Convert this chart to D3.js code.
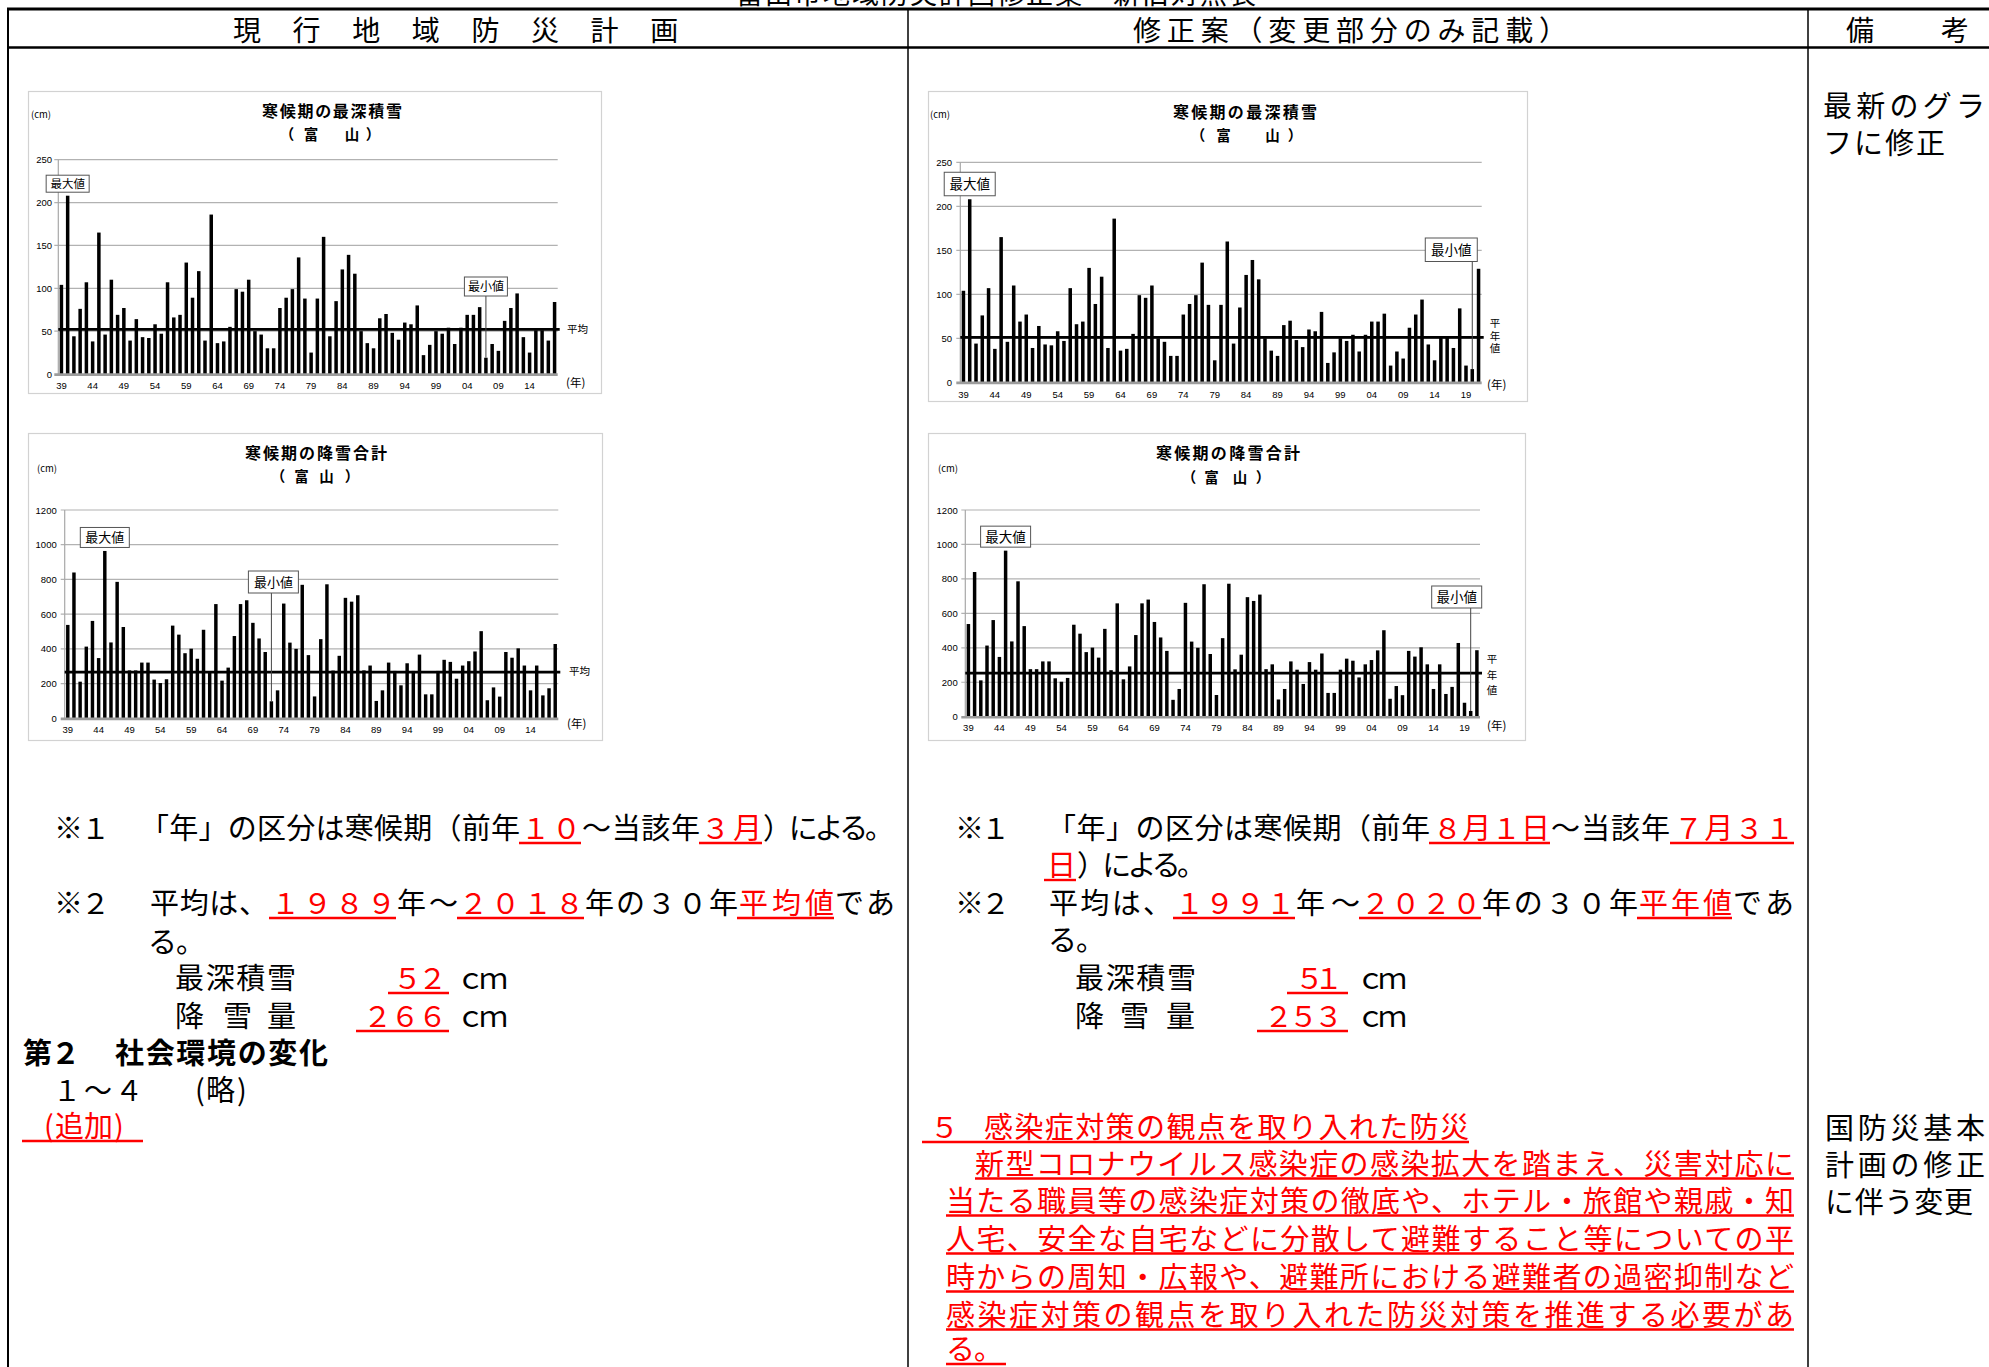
<!DOCTYPE html>
<html lang="ja">
<head>
<meta charset="utf-8">
<script src="https://cdn.jsdelivr.net/npm/d3@7"></script>
<style>
  html, body { margin: 0; padding: 0; background: #fff; }
  svg { display: block; }
</style>
</head>
<body>
<script>
// 寒候期（冬季）ごとの富山の観測値, 1939〜2021
const years = d3.range(1939, 2022);

// 寒候期の最深積雪 (cm)
const depth = [
  104, 208, 44, 76, 107, 38, 165, 46, 110, 69,
  77, 39, 64, 43, 42, 58, 47, 107, 66, 69,
  130, 89, 120, 39, 186, 36, 38, 55, 99, 96,
  110, 50, 46, 30, 30, 77, 89, 99, 136, 88,
  25, 88, 160, 44, 85, 122, 139, 117, 50, 36,
  30, 65, 70, 48, 40, 60, 58, 80, 22, 34,
  50, 47, 54, 35, 54, 69, 69, 78, 19, 35,
  27, 62, 77, 94, 43, 25, 51, 51, 39, 84,
  19, 15, 129
];

// 寒候期の降雪合計 (cm)
const total = [
  538, 840, 211, 413, 561, 347, 964, 437, 786, 526,
  276, 276, 321, 321, 223, 203, 225, 534, 482, 375,
  401, 343, 510, 270, 658, 217, 292, 474, 658, 680,
  550, 460, 382, 98, 161, 661, 436, 400, 769, 364,
  126, 456, 772, 275, 360, 694, 672, 709, 276, 304,
  100, 161, 321, 273, 190, 317, 273, 367, 138, 138,
  273, 337, 325, 228, 304, 329, 385, 502, 104, 178,
  125, 382, 349, 403, 304, 161, 304, 132, 173, 428,
  81, 33, 386
];

// 平均（現行: 1989〜2018）と平年値（修正案: 1991〜2020）
const oldDepthAvg = 52, oldTotalAvg = 266;
const newDepthAvg = 51, newTotalAvg = 253;

// 最大値・最小値の年
const depthMaxYear = 1940, totalMaxYear = 1945;
const oldDepthMinYear = 2007, oldTotalMinYear = 1972;
const newDepthMinYear = 2020, newTotalMinYear = 2020;

// 目盛
const depthTicks = [0, 50, 100, 150, 200, 250];
const totalTicks = [0, 200, 400, 600, 800, 1000, 1200];

const FONT = "'Noto Sans CJK JP','Noto Sans CJK SC',sans-serif";
const NUM = "'Liberation Sans',Arial,sans-serif";
const RED = "#ff0000";

const W = 1989, H = 1367;
const svg = d3.select("body").append("svg")
  .attr("width", W).attr("height", H)
  .attr("viewBox", `0 0 ${W} ${H}`);
svg.append("rect").attr("width", W).attr("height", H).attr("fill", "#fff");

const toFW = s => String(s).replace(/[0-9]/g, c => String.fromCharCode(c.charCodeAt(0) + 0xFEE0));

// ---------- 本文の文字列 ----------
function txt(x0, x1, y, str, o = {}) {
  const el = svg.append("text")
    .attr("x", x0).attr("y", y)
    .attr("font-family", FONT)
    .attr("font-size", o.fs || 29)
    .attr("font-weight", o.bold ? 700 : 400)
    .attr("fill", o.red ? RED : "#000")
    .text(str);
  if (x1 != null && [...str].length > 1) {
    el.attr("textLength", x1 - x0).attr("lengthAdjust", "spacing");
  }
  if (o.ul) {
    const u0 = o.u0 != null ? o.u0 : x0 - 2;
    const u1 = o.u1 != null ? o.u1 : x1;
    svg.append("line")
      .attr("x1", u0).attr("x2", u1)
      .attr("y1", y + (o.uy || 4)).attr("y2", y + (o.uy || 4))
      .attr("stroke", RED).attr("stroke-width", 2.4);
  }
  return el;
}

// ---------- 表の罫線と見出し ----------
txt(736, 1256, 4, "富山市地域防災計画修正案　新旧対照表", { fs: 27 });

const rule = (x1, y1, x2, y2, w) => svg.append("line")
  .attr("x1", x1).attr("y1", y1).attr("x2", x2).attr("y2", y2)
  .attr("stroke", "#000").attr("stroke-width", w);
rule(7, 9, W, 9, 3);
rule(7, 47.5, W, 47.5, 2.5);
rule(8, 8, 8, H, 2);
rule(908, 9, 908, H, 1.5);
rule(1808, 9, 1808, H, 1.5);

[..."現行地域防災計画"].forEach((ch, i) => txt(233 + i * 59.6, null, 41, ch, { fs: 28 }));
txt(1133, 1567, 41, "修正案（変更部分のみ記載）", { fs: 28 });
txt(1846, null, 41, "備", { fs: 28 });
txt(1941, null, 41, "考", { fs: 28 });

// ---------- グラフ ----------
function drawChart(c) {
  const g = svg.append("g");
  const yrs = years.slice(0, c.n);
  const vals = c.values.slice(0, c.n);

  g.append("rect")
    .attr("x", c.box[0] + 0.5).attr("y", c.box[1] + 0.5)
    .attr("width", c.box[2] - c.box[0]).attr("height", c.box[3] - c.box[1])
    .attr("fill", "#fff").attr("stroke", "#d2d2d2").attr("stroke-width", 1.2);

  const x = d3.scaleBand().domain(yrs).range([c.x0, c.x1])
    .paddingInner(0.44).paddingOuter(0.22);
  const y = d3.scaleLinear().domain([0, c.ticks[c.ticks.length - 1]]).range([c.y0, c.yTop]);
  const bw = x.bandwidth();
  const cx = yr => x(yr) + bw / 2;
  const valOf = yr => vals[yrs.indexOf(yr)];

  // 目盛線
  g.selectAll(".grid").data(c.ticks.filter(t => t > 0)).join("line")
    .attr("x1", c.x0 - 4).attr("x2", c.x1)
    .attr("y1", d => y(d)).attr("y2", d => y(d))
    .attr("stroke", "#b2b2b2").attr("stroke-width", 1.2);
  g.append("line")
    .attr("x1", c.x0).attr("x2", c.x0)
    .attr("y1", c.y0).attr("y2", y(c.ticks[c.ticks.length - 1]))
    .attr("stroke", "#a8a8a8").attr("stroke-width", 1.2);

  // 縦軸の目盛ラベル
  const ay = g.append("g")
    .attr("transform", `translate(${c.yLabelRight},0)`)
    .call(d3.axisLeft(y).tickValues(c.ticks).tickFormat(d3.format("d"))
      .tickSize(0).tickPadding(0));
  ay.select(".domain").remove();
  ay.selectAll("text").attr("font-family", NUM).attr("font-size", 9.5).attr("fill", "#000");

  // 棒
  g.selectAll(".bar").data(vals).join("rect")
    .attr("x", (d, i) => x(yrs[i])).attr("width", bw)
    .attr("y", d => y(d)).attr("height", d => c.y0 - y(d))
    .attr("fill", "#000");

  // 平均線
  g.append("line")
    .attr("x1", c.x0).attr("x2", c.x1 + 2)
    .attr("y1", y(c.avg)).attr("y2", y(c.avg))
    .attr("stroke", "#000").attr("stroke-width", 2.7);

  // 横軸
  g.append("line")
    .attr("x1", c.x0 - 4).attr("x2", c.x1)
    .attr("y1", c.y0 + 0.6).attr("y2", c.y0 + 0.6)
    .attr("stroke", "#9c9c9c").attr("stroke-width", 2.6);

  g.selectAll(".xl").data(yrs.filter(d => (d - 1939) % 5 === 0)).join("text")
    .attr("x", d => cx(d)).attr("y", c.xLabelY)
    .attr("text-anchor", "middle")
    .attr("font-family", NUM).attr("font-size", 9.5)
    .text(d => String(d).slice(2));

  // 表題
  g.append("text")
    .attr("x", c.tx - c.tw / 2).attr("y", c.ty)
    .attr("font-family", FONT).attr("font-weight", 700).attr("font-size", 16)
    .attr("textLength", c.tw).attr("lengthAdjust", "spacing")
    .text(c.title);
  ["（", "富", "山", "）"].forEach((ch, i) => {
    g.append("text")
      .attr("x", c.tx + c.sub[i]).attr("y", c.sy)
      .attr("text-anchor", "middle")
      .attr("font-family", FONT).attr("font-weight", 700).attr("font-size", 14.5)
      .text(ch);
  });

  g.append("text").attr("x", c.cm[0]).attr("y", c.cm[1])
    .attr("font-family", FONT).attr("font-size", 9.5).text("(cm)");
  g.append("text").attr("x", c.nen[0]).attr("y", c.nen[1])
    .attr("font-family", FONT).attr("font-size", 11.5).text("(年)");

  if (c.avgLabel.vertical) {
    ["平", "年", "値"].forEach((ch, i) => g.append("text")
      .attr("x", c.avgLabel.x).attr("y", c.avgLabel.ys[i])
      .attr("text-anchor", "middle")
      .attr("font-family", FONT).attr("font-size", 10.5).text(ch));
  } else {
    g.append("text").attr("x", c.avgLabel.x).attr("y", c.avgLabel.y)
      .attr("font-family", FONT).attr("font-size", 10.5).text("平均");
  }

  // 最大値・最小値の吹き出し
  function tag(bx, by, w, h, fs, label) {
    g.append("rect").attr("x", bx).attr("y", by).attr("width", w).attr("height", h)
      .attr("fill", "#fff").attr("stroke", "#555").attr("stroke-width", 1);
    g.append("text").attr("x", bx + w / 2).attr("y", by + h / 2 + fs * 0.36)
      .attr("text-anchor", "middle")
      .attr("font-family", FONT).attr("font-size", fs).text(label);
  }
  const mb = c.maxBox;
  tag(cx(c.maxYear) - mb.w / 2, y(valOf(c.maxYear)) - 3.5 - mb.h, mb.w, mb.h, mb.fs, "最大値");

  const nb = c.minBox;
  g.append("line")
    .attr("x1", cx(c.minYear)).attr("x2", cx(c.minYear))
    .attr("y1", nb.top + nb.h).attr("y2", y(valOf(c.minYear)))
    .attr("stroke", "#444").attr("stroke-width", 1);
  tag(cx(c.minYear) + nb.dx - nb.w / 2, nb.top, nb.w, nb.h, nb.fs, "最小値");
}

drawChart({
  box: [28, 91, 601, 393], n: 80, values: depth, ticks: depthTicks,
  x0: 58.3, x1: 557.7, y0: 374, yTop: 159.7, avg: oldDepthAvg,
  yLabelRight: 52, xLabelY: 389,
  title: "寒候期の最深積雪", tx: 332, ty: 117, tw: 140, sy: 140, sub: [-45, -21, 20, 41],
  cm: [31, 118], nen: [566, 387], avgLabel: { x: 567, y: 333 },
  maxYear: depthMaxYear, maxBox: { w: 43, h: 17, fs: 11.5 },
  minYear: oldDepthMinYear, minBox: { w: 43, h: 19, top: 277, dx: 0, fs: 12 }
});

drawChart({
  box: [28, 433, 602, 740], n: 80, values: total, ticks: totalTicks,
  x0: 64.7, x1: 558.3, y0: 718.3, yTop: 510, avg: oldTotalAvg,
  yLabelRight: 56.7, xLabelY: 733,
  title: "寒候期の降雪合計", tx: 316, ty: 459, tw: 142, sy: 482, sub: [-38, -14.5, 10.5, 36],
  cm: [37, 472], nen: [567, 728], avgLabel: { x: 569, y: 675 },
  maxYear: totalMaxYear, maxBox: { w: 49, h: 20, fs: 13 },
  minYear: oldTotalMinYear, minBox: { w: 50, h: 22, top: 571, dx: 2, fs: 13 }
});

drawChart({
  box: [928, 91, 1527, 401], n: 83, values: depth, ticks: depthTicks,
  x0: 960.3, x1: 1481.7, y0: 382.3, yTop: 162.3, avg: newDepthAvg,
  yLabelRight: 952, xLabelY: 397.5,
  title: "寒候期の最深積雪", tx: 1245, ty: 118, tw: 144, sy: 141, sub: [-47, -21.5, 27.5, 50],
  cm: [930, 118], nen: [1487, 389], avgLabel: { vertical: true, x: 1495, ys: [327, 339.5, 352] },
  maxYear: depthMaxYear, maxBox: { w: 51, h: 23.5, fs: 13.5 },
  minYear: newDepthMinYear, minBox: { w: 52, h: 23.5, top: 238, dx: -21, fs: 13.5 }
});

drawChart({
  box: [928, 433, 1525, 740], n: 83, values: total, ticks: totalTicks,
  x0: 965.3, x1: 1480, y0: 716.7, yTop: 510, avg: newTotalAvg,
  yLabelRight: 957.7, xLabelY: 731,
  title: "寒候期の降雪合計", tx: 1228, ty: 459, tw: 144, sy: 482.5, sub: [-39, -16.5, 12, 35],
  cm: [938, 472], nen: [1487, 730], avgLabel: { vertical: true, x: 1492, ys: [663, 678.5, 694] },
  maxYear: totalMaxYear, maxBox: { w: 50, h: 21, fs: 13.5 },
  minYear: newTotalMinYear, minBox: { w: 50, h: 22, top: 586, dx: -14, fs: 13.5 }
});

// ---------- 現行計画の本文 ----------
txt(54, 110, 839, "※１");
txt(140, 520, 839, "「年」の区分は寒候期（前年");
txt(521, 581, 839, "１０", { red: true, ul: true });
txt(582, 700, 839, "～当該年");
txt(701, 762, 839, "３月", { red: true, ul: true });
txt(763, 894, 839, "）による。");

txt(54, 110, 914, "※２");
txt(150, 268, 914, "平均は、");
txt(271, 396, 914, "１９８９", { red: true, ul: true });
txt(397, 458, 914, "年～");
txt(459, 584, 914, "２０１８", { red: true, ul: true });
txt(585, 738, 914, "年の３０年");
txt(739, 834, 914, "平均値", { red: true, ul: true });
txt(835, 895, 914, "であ");
txt(148, 205, 953, "る。");

txt(175, 296, 989, "最深積雪");
txt(393, 447, 989, toFW(oldDepthAvg), { red: true, ul: true, u0: 388, u1: 449 });
txt(456, 508, 989, "ｃｍ");
txt(175, null, 1027, "降");
txt(223, null, 1027, "雪");
txt(267, null, 1027, "量");
txt(363, 447, 1027, toFW(oldTotalAvg), { red: true, ul: true, u0: 356, u1: 449 });
txt(456, 508, 1027, "ｃｍ");

txt(23, 80, 1064, "第２", { bold: true });
txt(115, 328, 1064, "社会環境の変化", { bold: true });
txt(53, null, 1101, "１", { fs: 28 });
txt(84, null, 1101, "～", { fs: 28 });
txt(115, null, 1101, "４", { fs: 28 });
txt(195, null, 1101, "(");
txt(206, null, 1101, "略");
txt(237, null, 1101, ")");
txt(44, null, 1137, "(", { red: true });
txt(55, 113, 1137, "追加", { red: true });
txt(114, null, 1137, ")", { red: true, ul: true, u0: 22, u1: 143 });

// ---------- 修正案の本文 ----------
txt(955, 1010, 839, "※１");
txt(1047, 1430, 839, "「年」の区分は寒候期（前年");
txt(1433, 1550, 839, "８月１日", { red: true, ul: true, u0: 1429 });
txt(1551, 1670, 839, "～当該年");
txt(1674, 1794, 839, "７月３１", { red: true, ul: true, u0: 1670 });
txt(1047, null, 876, "日", { red: true, ul: true, u0: 1044, u1: 1076 });
txt(1077, 1206, 876, "）による。");

txt(955, 1010, 914, "※２");
txt(1049, 1172, 914, "平均は、");
txt(1175, 1295, 914, "１９９１", { red: true, ul: true });
txt(1296, 1360, 914, "年～");
txt(1361, 1481, 914, "２０２０", { red: true, ul: true });
txt(1482, 1638, 914, "年の３０年");
txt(1639, 1732, 914, "平年値", { red: true, ul: true });
txt(1733, 1794, 914, "であ");
txt(1048, 1105, 951, "る。");

txt(1075, 1196, 989, "最深積雪");
txt(1295, 1343, 989, toFW(newDepthAvg), { red: true, ul: true, u0: 1287, u1: 1348 });
txt(1356, 1407, 989, "ｃｍ");
txt(1075, null, 1027, "降");
txt(1120, null, 1027, "雪");
txt(1166, null, 1027, "量");
txt(1264, 1343, 1027, toFW(newTotalAvg), { red: true, ul: true, u0: 1257, u1: 1348 });
txt(1356, 1407, 1027, "ｃｍ");

txt(930, null, 1138, "５", { red: true });
txt(984, 1469, 1138, "感染症対策の観点を取り入れた防災", { red: true, ul: true, u0: 922, u1: 1469 });

const para = [
  [975, 1175, "新型コロナウイルス感染症の感染拡大を踏まえ、災害対応に"],
  [946, 1212, "当たる職員等の感染症対策の徹底や、ホテル・旅館や親戚・知"],
  [946, 1250, "人宅、安全な自宅などに分散して避難すること等についての平"],
  [946, 1288, "時からの周知・広報や、避難所における避難者の過密抑制など"],
  [946, 1326, "感染症対策の観点を取り入れた防災対策を推進する必要があ"]
];
para.forEach(([x0, y, s]) => txt(x0, 1794, y, s, { red: true, ul: true, u0: x0, uy: 3.5 }));
txt(946, 1003, 1360, "る。", { red: true, ul: true, u0: 946, u1: 1006, uy: 4 });

// ---------- 備考 ----------
txt(1823, 1985, 117, "最新のグラ");
txt(1823, 1945, 154, "フに修正");
txt(1825, 1985, 1139, "国防災基本");
txt(1825, 1985, 1176, "計画の修正");
txt(1825, 1973, 1213, "に伴う変更");
</script>
</body>
</html>
